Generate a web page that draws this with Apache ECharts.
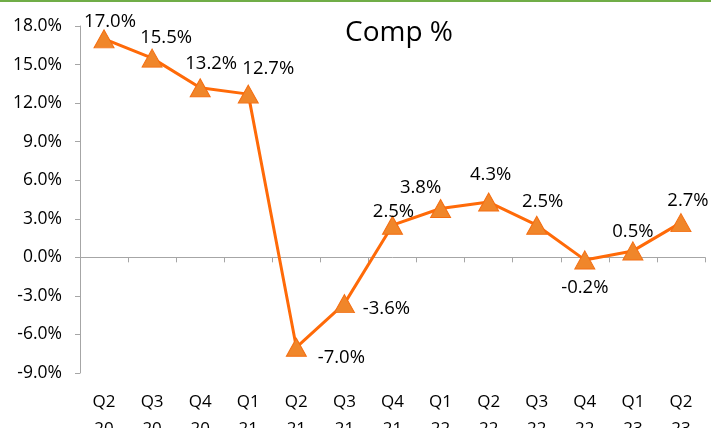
<!DOCTYPE html>
<html><head><meta charset="utf-8">
<script src="https://cdn.jsdelivr.net/npm/echarts@6/dist/echarts.min.js"></script>
<style>html,body{margin:0;padding:0;background:#fff}#c{width:711px;height:428px}</style>
</head><body><div id="c"></div>
<script>
const categories = ['Q2\n20','Q3\n20','Q4\n20','Q1\n21','Q2\n21','Q3\n21','Q4\n21','Q1\n22','Q2\n22','Q3\n22','Q4\n22','Q1\n23','Q2\n23'];
const compValues = [17.0, 15.5, 13.2, 12.7, -7.0, -3.6, 2.5, 3.8, 4.3, 2.5, -0.2, 0.5, 2.7];
const yTicks = { min: -9, max: 18, interval: 3 };
const labelOffsets = [[6,-17],[14,-20],[11,-24],[20,-25],[45,10],[42,5],[1,-13],[-20,-21],[2,-27],[6,-23],[0,28],[0,-19],[7,-22]];

const FONT = '"Open Sans", "Liberation Sans", sans-serif';
const chart = echarts.init(document.getElementById('c'));
chart.setOption({
  animation: false,
  backgroundColor: '#fff',
  title: { text: 'Comp %', left: 340, top: 14,
    textStyle: { fontFamily: FONT, fontSize: 28, fontWeight: 'normal', color: '#000' } },
  graphic: [{ type: 'rect', shape: { x: 0, y: 0, width: 711, height: 2 }, style: { fill: '#70ad47' } }],
  grid: { left: 80, right: 6, top: 26, bottom: 55, containLabel: false, outerBoundsMode: 'none' },
  xAxis: [
    { type: 'category', data: categories, boundaryGap: true,
      axisLine: { onZero: true, lineStyle: { color: '#a6a6a6', width: 1 } },
      axisTick: { show: true, length: 5, lineStyle: { color: '#a6a6a6' } },
      axisLabel: { show: false }, splitLine: { show: false } },
    { type: 'category', data: categories, boundaryGap: true, position: 'bottom',
      axisLine: { show: false, onZero: false }, axisTick: { show: false },
      axisLabel: { margin: 16, fontFamily: FONT, fontSize: 17, lineHeight: 27, color: '#000' } }
  ],
  yAxis: { type: 'value', min: yTicks.min, max: yTicks.max, interval: yTicks.interval,
    axisLine: { show: true, lineStyle: { color: '#a6a6a6' } },
    axisTick: { show: true, length: 5, lineStyle: { color: '#a6a6a6' } },
    splitLine: { show: false },
    axisLabel: { margin: 18, fontFamily: FONT, fontSize: 17.5, color: '#000',
      formatter: v => v.toFixed(1) + '%' } },
  series: [{
    type: 'line', xAxisIndex: 0,
    data: compValues.map((v, i) => ({ value: v, label: { offset: labelOffsets[i] } })),
    symbol: 'triangle', symbolSize: [20, 18],
    lineStyle: { color: '#ff6a08', width: 3 },
    itemStyle: { color: '#f0862a', borderColor: '#f46d10', borderWidth: 1 },
    label: { show: true, position: 'inside', fontFamily: FONT, fontSize: 18.5, color: '#000',
      formatter: p => p.value.toFixed(1) + '%' }
  }]
});
</script></body></html>
